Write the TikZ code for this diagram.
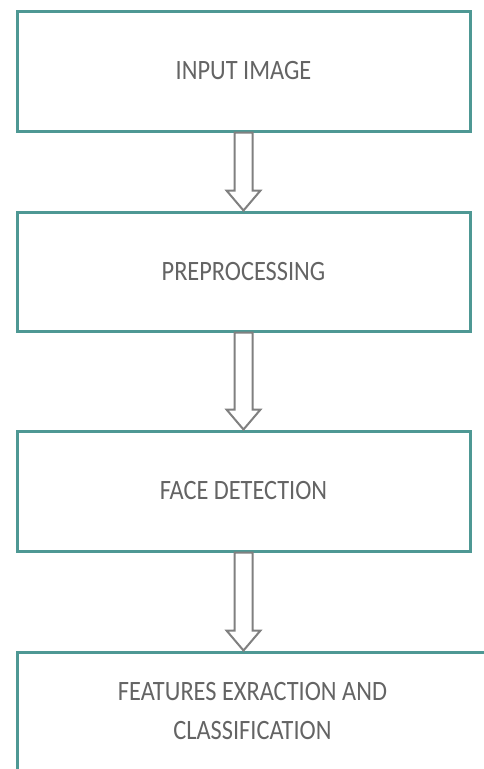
\documentclass[tikz,border=0pt]{standalone}
\usepackage{fontspec}
\setmainfont{Carlito}[FakeStretch=0.87]
\usetikzlibrary{calc}
\definecolor{tealbox}{RGB}{78,152,148}
\definecolor{txtgray}{RGB}{100,100,100}
\definecolor{arrgray}{RGB}{128,128,128}
\begin{document}
\begin{tikzpicture}[x=1pt,y=-1pt,
  box/.style={draw=tealbox, line width=3pt, inner sep=0pt, minimum width=453pt,
    font=\fontsize{28}{39}\selectfont, text=txtgray, align=center},
  hollow/.style={draw=arrgray, line width=2pt, line join=miter, fill=white}]
\useasboundingbox (0,0) rectangle (484,769);
\clip (0,0) rectangle (484,769);
\fill[white] (0,0) rectangle (484,769);
\node[box, minimum height=120pt] (b1) at (243.5,71) {INPUT IMAGE};
\node[box, minimum height=119pt] (b2) at (243.5,271.5) {PREPROCESSING};
\node[box, minimum height=120pt] (b3) at (243.5,491) {FACE DETECTION};
\node[box, minimum height=118pt, minimum width=471pt] (b4) at (252.5,711) {FEATURES EXRACTION AND\\CLASSIFICATION};
\coordinate (t2) at (b1.south |- b2.north);
\coordinate (t3) at (b2.south |- b3.north);
\coordinate (t4) at (b3.south |- b4.north);
\draw[hollow] ($(b1.south)+(-9,0)$) -- ($(t2)+(-9,-20)$) -- ($(t2)+(-17,-20)$) -- (t2)
  -- ($(t2)+(17,-20)$) -- ($(t2)+(9,-20)$) -- ($(b1.south)+(9,0)$) -- cycle;
\draw[hollow] ($(b2.south)+(-9,0)$) -- ($(t3)+(-9,-20)$) -- ($(t3)+(-17,-20)$) -- (t3)
  -- ($(t3)+(17,-20)$) -- ($(t3)+(9,-20)$) -- ($(b2.south)+(9,0)$) -- cycle;
\draw[hollow] ($(b3.south)+(-9,0)$) -- ($(t4)+(-9,-20)$) -- ($(t4)+(-17,-20)$) -- (t4)
  -- ($(t4)+(17,-20)$) -- ($(t4)+(9,-20)$) -- ($(b3.south)+(9,0)$) -- cycle;
\end{tikzpicture}
\end{document}
